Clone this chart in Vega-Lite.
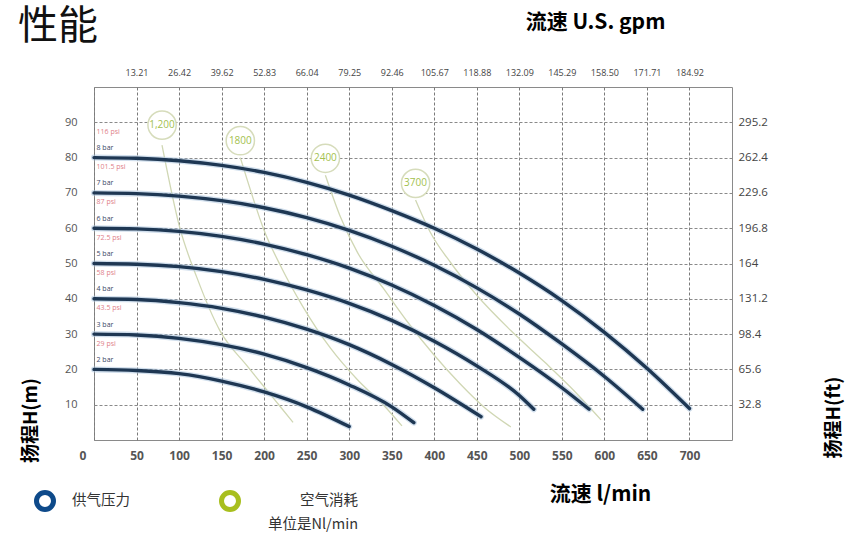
{
"$schema":"https://vega.github.io/schema/vega-lite/v6.json",
"width":638,"height":353,
"autosize":{"type":"none"},
"padding":{"left":94,"top":87,"right":125,"bottom":94},
"background":"white",
"config":{"view":{"stroke":"#8a8a8a","strokeWidth":1},"font":"Noto Sans CJK SC"},
"title":{"text":"性能","anchor":"start","frame":"group","dx":-76,"dy":40,"fontSize":40,"fontWeight":"normal","color":"#111","font":"Noto Sans CJK SC"},
"datasets":{
"pressure":[
{"s":"8 bar","Q":0,"H":80},{"s":"8 bar","Q":50,"H":79.8},{"s":"8 bar","Q":100,"H":79.1},{"s":"8 bar","Q":150,"H":77.8},{"s":"8 bar","Q":200,"H":75.8},{"s":"8 bar","Q":250,"H":73},{"s":"8 bar","Q":300,"H":69.4},{"s":"8 bar","Q":350,"H":65},{"s":"8 bar","Q":400,"H":60},{"s":"8 bar","Q":450,"H":54.1},{"s":"8 bar","Q":500,"H":47.3},{"s":"8 bar","Q":550,"H":39.5},{"s":"8 bar","Q":600,"H":30.5},{"s":"8 bar","Q":650,"H":20.3},{"s":"8 bar","Q":700,"H":8.9},
{"s":"7 bar","Q":0,"H":70},{"s":"7 bar","Q":50,"H":69.8},{"s":"7 bar","Q":100,"H":69.1},{"s":"7 bar","Q":150,"H":67.8},{"s":"7 bar","Q":200,"H":65.8},{"s":"7 bar","Q":250,"H":63},{"s":"7 bar","Q":300,"H":59.4},{"s":"7 bar","Q":350,"H":54.9},{"s":"7 bar","Q":400,"H":49.5},{"s":"7 bar","Q":450,"H":43.1},{"s":"7 bar","Q":500,"H":35.7},{"s":"7 bar","Q":550,"H":27.2},{"s":"7 bar","Q":600,"H":18},{"s":"7 bar","Q":645,"H":8.7},
{"s":"6 bar","Q":0,"H":60},{"s":"6 bar","Q":50,"H":59.8},{"s":"6 bar","Q":100,"H":59.1},{"s":"6 bar","Q":150,"H":57.7},{"s":"6 bar","Q":200,"H":55.5},{"s":"6 bar","Q":250,"H":52.5},{"s":"6 bar","Q":300,"H":48.7},{"s":"6 bar","Q":350,"H":43.9},{"s":"6 bar","Q":400,"H":38.1},{"s":"6 bar","Q":450,"H":31.3},{"s":"6 bar","Q":500,"H":23.4},{"s":"6 bar","Q":550,"H":14.8},{"s":"6 bar","Q":582,"H":8.7},
{"s":"5 bar","Q":0,"H":50},{"s":"5 bar","Q":50,"H":49.8},{"s":"5 bar","Q":100,"H":49.1},{"s":"5 bar","Q":150,"H":47.7},{"s":"5 bar","Q":200,"H":45.5},{"s":"5 bar","Q":250,"H":42.5},{"s":"5 bar","Q":300,"H":38.7},{"s":"5 bar","Q":350,"H":33.9},{"s":"5 bar","Q":400,"H":28},{"s":"5 bar","Q":450,"H":21},{"s":"5 bar","Q":500,"H":12.6},{"s":"5 bar","Q":517,"H":8.7},
{"s":"4 bar","Q":0,"H":40},{"s":"4 bar","Q":50,"H":39.8},{"s":"4 bar","Q":100,"H":38.9},{"s":"4 bar","Q":150,"H":37.3},{"s":"4 bar","Q":200,"H":34.8},{"s":"4 bar","Q":250,"H":31.4},{"s":"4 bar","Q":300,"H":27},{"s":"4 bar","Q":350,"H":21.4},{"s":"4 bar","Q":400,"H":14.8},{"s":"4 bar","Q":455,"H":6.6},
{"s":"3 bar","Q":0,"H":30},{"s":"3 bar","Q":50,"H":29.75},{"s":"3 bar","Q":100,"H":28.8},{"s":"3 bar","Q":150,"H":27},{"s":"3 bar","Q":200,"H":24.3},{"s":"3 bar","Q":250,"H":20.5},{"s":"3 bar","Q":300,"H":15.6},{"s":"3 bar","Q":350,"H":9.4},{"s":"3 bar","Q":376,"H":4.9},
{"s":"2 bar","Q":0,"H":20},{"s":"2 bar","Q":50,"H":19.7},{"s":"2 bar","Q":100,"H":18.8},{"s":"2 bar","Q":150,"H":16.7},{"s":"2 bar","Q":200,"H":13.6},{"s":"2 bar","Q":250,"H":9.4},{"s":"2 bar","Q":300,"H":3.8}
],
"air":[
{"a":"1200","Q":80,"H":83.5},{"a":"1200","Q":101,"H":60},{"a":"1200","Q":121,"H":46},{"a":"1200","Q":148,"H":31},{"a":"1200","Q":180,"H":21},{"a":"1200","Q":207,"H":13},{"a":"1200","Q":234,"H":5},
{"a":"1800","Q":172,"H":80},{"a":"1800","Q":185,"H":70},{"a":"1800","Q":199,"H":60},{"a":"1800","Q":220,"H":49},{"a":"1800","Q":245,"H":38},{"a":"1800","Q":278,"H":26},{"a":"1800","Q":310,"H":17},{"a":"1800","Q":340,"H":10},{"a":"1800","Q":362,"H":4},
{"a":"2400","Q":272,"H":75},{"a":"2400","Q":290,"H":63},{"a":"2400","Q":310,"H":53},{"a":"2400","Q":340,"H":43},{"a":"2400","Q":370,"H":33},{"a":"2400","Q":400,"H":24},{"a":"2400","Q":430,"H":16},{"a":"2400","Q":460,"H":9},{"a":"2400","Q":490,"H":3.7},
{"a":"3700","Q":378,"H":68},{"a":"3700","Q":395,"H":59},{"a":"3700","Q":420,"H":50},{"a":"3700","Q":450,"H":41},{"a":"3700","Q":490,"H":31},{"a":"3700","Q":530,"H":22},{"a":"3700","Q":560,"H":15},{"a":"3700","Q":596,"H":5.7}
],
"airlab":[
{"a":"1,200","Q":80,"H":89.2},{"a":"1800","Q":172,"H":84.8},{"a":"2400","Q":272,"H":79.8},{"a":"3700","Q":378,"H":72.7}
],
"psi":[
{"t":"116 psi","Q":3,"H":87.3},{"t":"101.5 psi","Q":3,"H":77.3},{"t":"87 psi","Q":3,"H":67.3},{"t":"72.5 psi","Q":3,"H":57.3},{"t":"58 psi","Q":3,"H":47.3},{"t":"43.5 psi","Q":3,"H":37.3},{"t":"29 psi","Q":3,"H":27.3}
],
"bar":[
{"t":"8 bar","Q":3,"H":82.7},{"t":"7 bar","Q":3,"H":72.7},{"t":"6 bar","Q":3,"H":62.7},{"t":"5 bar","Q":3,"H":52.7},{"t":"4 bar","Q":3,"H":42.7},{"t":"3 bar","Q":3,"H":32.7},{"t":"2 bar","Q":3,"H":22.7}
],
"leg1":[{"k":"供气压力"}],
"leg2":[{"k":"空气消耗"}]
},
"layer":[
{"data":{"name":"air"},
 "mark":{"type":"line","color":"#d0d7b4","strokeWidth":1.3,"interpolate":"monotone"},
 "encoding":{
  "x":{"field":"Q","type":"quantitative","scale":{"domain":[0,750],"nice":false,"zero":false},
   "axis":{"orient":"bottom","values":[0,50,100,150,200,250,300,350,400,450,500,550,600,650,700],"grid":true,"gridColor":"#7a7a7a","gridDash":[3,2],"gridWidth":1,"domain":false,"ticks":false,"labelFontSize":12,"labelColor":"#555","labelPadding":10,"labelFont":"Open Sans","labelFontWeight":"bold",
   "labelOffset":{"condition":{"test":"datum.value == 0","value":-15},"value":0},
   "title":"流速 l/min","titleX":506,"titleY":54,"titleFontSize":21,"titleFontWeight":"bold","titleColor":"#000","titleBaseline":"middle","titleAlign":"center","titleAnchor":null}},
  "y":{"field":"H","type":"quantitative","scale":{"domain":[0,100],"nice":false,"zero":false},
   "axis":{"orient":"left","values":[10,20,30,40,50,60,70,80,90],"grid":true,"gridColor":"#8a8a8a","gridDash":[3,2],"gridWidth":1,"domain":false,"ticks":false,"labelFontSize":11,"labelColor":"#555","labelPadding":17,"labelFont":"Open Sans",
   "title":"扬程H(m)","titleX":-64,"titleY":333,"titleAngle":-90,"titleFontSize":19,"titleFontWeight":"bold","titleColor":"#000","titleBaseline":"middle","titleAlign":"center","titleAnchor":null}},
  "detail":{"field":"a"},
  "order":{"field":"Q"}
 }},
{"data":{"name":"airlab"},
 "mark":{"type":"point","shape":"circle","size":800,"filled":true,"fill":"white","stroke":"#d6dcbb","strokeWidth":1.5,"opacity":1},
 "encoding":{
  "x":{"field":"Q","type":"quantitative","scale":{"domain":[0,750],"nice":false,"zero":false},
   "axis":{"orient":"top","values":[50,100,150,200,250,300,350,400,450,500,550,600,650,700],"grid":false,"domain":false,"ticks":false,"labelFontSize":9,"labelColor":"#444","labelPadding":10,"labelFont":"Open Sans",
   "labelExpr":"['13.21','26.42','39.62','52.83','66.04','79.25','92.46','105.67','118.88','132.09','145.29','158.50','171.71','184.92'][datum.value/50-1]",
   "title":"流速 U.S. gpm","titleX":501,"titleY":-65,"titleFontSize":21,"titleFontWeight":"bold","titleColor":"#000","titleBaseline":"middle","titleAlign":"center","titleAnchor":null}},
  "y":{"field":"H","type":"quantitative","scale":{"domain":[0,100],"nice":false,"zero":false},
   "axis":{"orient":"right","values":[10,20,30,40,50,60,70,80,90],"grid":false,"domain":false,"ticks":false,"labelFontSize":11.5,"labelColor":"#444","labelPadding":6,"labelFont":"Open Sans",
   "labelExpr":"['32.8','65.6','98.4','131.2','164','196.8','229.6','262.4','295.2'][datum.value/10-1]",
   "title":"扬程H(ft)","titleX":101,"titleY":330,"titleAngle":-90,"titleFontSize":19,"titleFontWeight":"bold","titleColor":"#000","titleBaseline":"middle","titleAlign":"center","titleAnchor":null}}
 }},
{"data":{"name":"airlab"},
 "mark":{"type":"text","color":"#a3bf4e","fontSize":10,"font":"Open Sans"},
 "encoding":{"x":{"field":"Q","type":"quantitative","axis":null},"y":{"field":"H","type":"quantitative","axis":null},"text":{"field":"a"}}},
{"data":{"name":"pressure"},
 "mark":{"type":"line","color":"#a9c3dd","strokeWidth":6,"opacity":0.55,"interpolate":"monotone","strokeCap":"round"},
 "encoding":{"x":{"field":"Q","type":"quantitative","axis":null},"y":{"field":"H","type":"quantitative","axis":null},"detail":{"field":"s"},"order":{"field":"Q"}}},
{"data":{"name":"pressure"},
 "mark":{"type":"line","color":"#1e3753","strokeWidth":3.4,"interpolate":"monotone","strokeCap":"round"},
 "encoding":{"x":{"field":"Q","type":"quantitative","axis":null},"y":{"field":"H","type":"quantitative","axis":null},"detail":{"field":"s"},"order":{"field":"Q"}}},
{"data":{"name":"psi"},
 "mark":{"type":"text","color":"#e0808a","fontSize":7,"align":"left","font":"Open Sans"},
 "encoding":{"x":{"field":"Q","type":"quantitative","axis":null},"y":{"field":"H","type":"quantitative","axis":null},"text":{"field":"t"}}},
{"data":{"name":"bar"},
 "mark":{"type":"text","color":"#3a4866","fontSize":7,"align":"left","font":"Open Sans"},
 "encoding":{"x":{"field":"Q","type":"quantitative","axis":null},"y":{"field":"H","type":"quantitative","axis":null},"text":{"field":"t"}}},
{"data":{"name":"leg1"},
 "mark":{"type":"point","shape":"circle","filled":false,"opacity":0},
 "encoding":{
  "color":{"field":"k","type":"nominal","scale":{"domain":["供气压力"],"range":["#0e4a8a"]},
   "legend":{"title":null,"orient":"none","legendX":-60,"legendY":403,"padding":0,"symbolType":"circle","symbolSize":289,"symbolStrokeWidth":5,"symbolOpacity":1,"symbolFillColor":"transparent","labelOffset":16,"labelFontSize":14.5,"labelColor":"#333","labelLimit":300,"labelBaseline":"middle"}}
 }},
{"data":{"name":"leg2"},
 "mark":{"type":"point","shape":"circle","filled":false,"opacity":0},
 "encoding":{
  "stroke":{"field":"k","type":"nominal","scale":{"domain":["空气消耗"],"range":["#a8bf1e"]},
   "legend":{"title":"单位是Nl/min","titleOrient":"bottom","titleAnchor":"end","titleAlign":"right","titleFontSize":14.5,"titleFontWeight":"normal","titleColor":"#333","titlePadding":-2,"titleFont":"Noto Sans CJK SC",
   "orient":"none","legendX":125,"legendY":403,"padding":0,"symbolType":"circle","symbolSize":289,"symbolStrokeWidth":5,"symbolOpacity":1,"symbolFillColor":"transparent","labelOffset":59,"labelFontSize":14.5,"labelColor":"#333","labelLimit":300,"labelBaseline":"middle"}}
 }}
],
"resolve":{"axis":{"x":"independent","y":"independent"}}
}
